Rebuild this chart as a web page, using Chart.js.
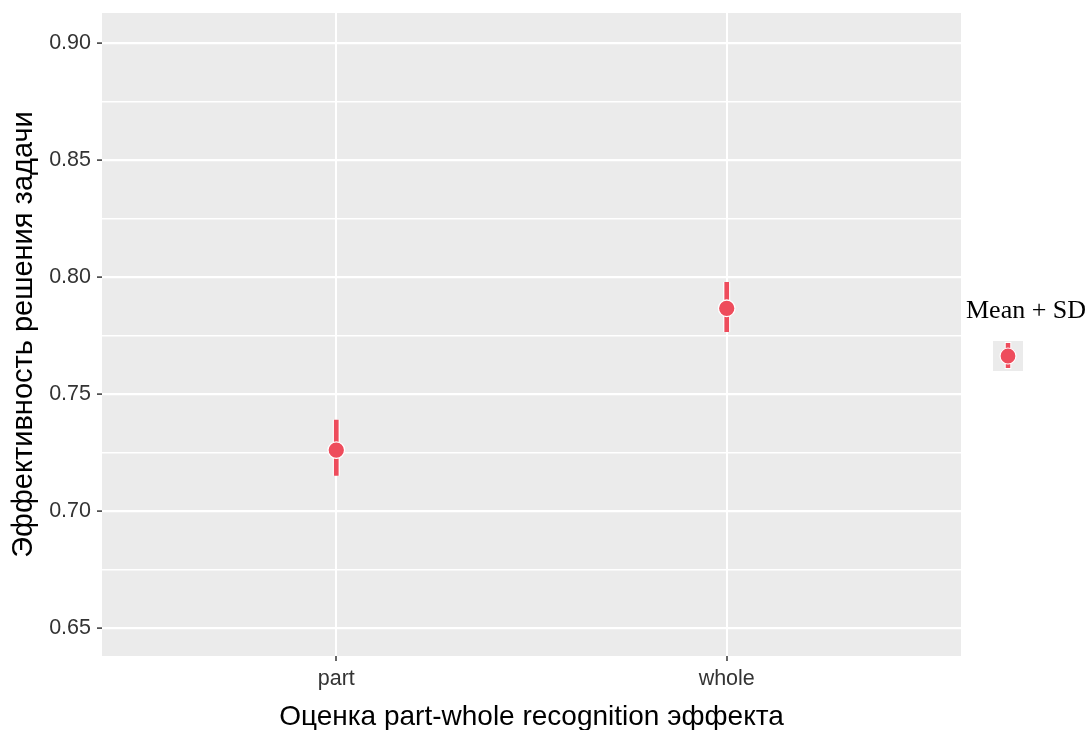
<!DOCTYPE html>
<html>
<head>
<meta charset="utf-8">
<script src="https://cdn.jsdelivr.net/npm/chart.js@4"></script>
<style>
  body { margin: 0; background: #fff; }
  #wrap { width: 1091px; height: 730px; position: relative; }
</style>
</head>
<body>
<div id="wrap"><canvas id="myChart"></canvas></div>
<script>
// dados
const categorias = ['part', 'whole'];
const medias = [0.726, 0.7866];
const sdBaixo = [0.715, 0.7765];
const sdAlto = [0.739, 0.7978];
const ticksY = [0.65, 0.70, 0.75, 0.80, 0.85, 0.90];

const vermelho = '#EE4C5C';
const fundoPainel = '#EBEBEB';

// segmentos das barras de erro (null separa os segmentos)
const segmentos = [];
categorias.forEach((c, i) => {
  segmentos.push({ x: i + 1, y: sdBaixo[i] });
  segmentos.push({ x: i + 1, y: sdAlto[i] });
  segmentos.push({ x: i + 1, y: null });
});
const pontos = categorias.map((c, i) => ({ x: i + 1, y: medias[i] }));

// ticks maiores + menores (meio do caminho)
const todosTicksY = [];
ticksY.forEach((v, i) => {
  todosTicksY.push(v);
  if (i < ticksY.length - 1) todosTicksY.push((v + ticksY[i + 1]) / 2);
});
const ehMaior = v => ticksY.some(t => Math.abs(t - v) < 1e-9);

const painel = {
  id: 'painel',
  beforeDraw(chart) {
    const { ctx, chartArea: a } = chart;
    ctx.save();
    ctx.fillStyle = fundoPainel;
    ctx.fillRect(a.left, a.top, a.right - a.left, a.bottom - a.top);
    ctx.restore();
  }
};

const legenda = {
  id: 'legenda',
  afterDraw(chart) {
    const ctx = chart.ctx;
    ctx.save();
    ctx.fillStyle = '#000';
    ctx.font = '26px "Liberation Serif"';
    ctx.textBaseline = 'alphabetic';
    ctx.fillText('Mean + SD', 966, 318);
    ctx.fillStyle = fundoPainel;
    ctx.fillRect(993, 341, 30, 30);
    ctx.lineCap = 'butt';
    ctx.strokeStyle = '#fff';
    ctx.lineWidth = 6.5;
    ctx.beginPath(); ctx.moveTo(1008, 342); ctx.lineTo(1008, 369); ctx.stroke();
    ctx.strokeStyle = vermelho;
    ctx.lineWidth = 4.5;
    ctx.beginPath(); ctx.moveTo(1008, 343); ctx.lineTo(1008, 368); ctx.stroke();
    ctx.beginPath(); ctx.arc(1008, 356, 8, 0, Math.PI * 2);
    ctx.fillStyle = vermelho; ctx.fill();
    ctx.strokeStyle = '#fff'; ctx.lineWidth = 1.2; ctx.stroke();
    ctx.restore();
  }
};

const ctx = document.getElementById('myChart').getContext('2d');
window.myChartInstance = new Chart(ctx, {
  type: 'scatter',
  data: {
    datasets: [
      {
        data: pontos,
        backgroundColor: vermelho,
        borderColor: '#fff',
        borderWidth: 1.3,
        pointRadius: 8.3,
        order: 0
      },
      {
        data: segmentos,
        showLine: true,
        spanGaps: false,
        pointRadius: 0,
        borderColor: vermelho,
        borderWidth: 4.7,
        borderCapStyle: 'butt',
        order: 1
      },
      {
        data: segmentos,
        showLine: true,
        spanGaps: false,
        pointRadius: 0,
        borderColor: '#fff',
        borderWidth: 7,
        order: 2
      }
    ]
  },
  options: {
    responsive: true,
    maintainAspectRatio: false,
    animation: false,
    layout: { padding: { left: 0, right: 130, top: 13, bottom: 0 } },
    plugins: { legend: { display: false }, tooltip: { enabled: false } },
    scales: {
      x: {
        type: 'linear',
        min: 0.4,
        max: 2.6,
        afterBuildTicks: s => { s.ticks = categorias.map((c, i) => ({ value: i + 1 })); },
        afterFit: s => { s.height = 74; s.paddingLeft = 0; s.paddingRight = 0; },
        border: { display: false },
        grid: {
          color: '#fff',
          lineWidth: 2,
          tickColor: '#333',
          tickWidth: 1.5,
          tickLength: 5
        },
        ticks: {
          autoSkip: false,
          maxRotation: 0,
          padding: 5,
          color: '#333',
          font: { family: '"Liberation Sans", Arial', size: 21.5 },
          callback: v => categorias[Math.round(v) - 1]
        },
        title: {
          display: true,
          text: 'Оценка part-whole recognition эффекта',
          color: '#000',
          font: { family: '"Liberation Sans", Arial', size: 28 },
          padding: { top: 0, bottom: -4 }
        }
      },
      y: {
        min: 0.638,
        max: 0.9128,
        afterBuildTicks: s => { s.ticks = todosTicksY.map(v => ({ value: v })); },
        afterFit: s => { s.width = 102; s.paddingTop = 0; s.paddingBottom = 0; },
        border: { display: false },
        grid: {
          color: '#fff',
          lineWidth: c => ehMaior(c.tick.value) ? 2.2 : 1.4,
          tickColor: c => ehMaior(c.tick.value) ? '#333' : 'rgba(0,0,0,0)',
          tickWidth: 1.5,
          tickLength: 5
        },
        ticks: {
          autoSkip: false,
          padding: 6,
          color: '#333',
          font: { family: '"Liberation Sans", Arial', size: 21.5 },
          callback: v => ehMaior(v) ? v.toFixed(2) : ''
        },
        title: {
          display: true,
          text: 'Эффективность решения задачи',
          color: '#000',
          font: { family: '"Liberation Sans", Arial', size: 29 },
          padding: { top: 7, bottom: 0 }
        }
      }
    }
  },
  plugins: [painel, legenda]
});
</script>
</body>
</html>
